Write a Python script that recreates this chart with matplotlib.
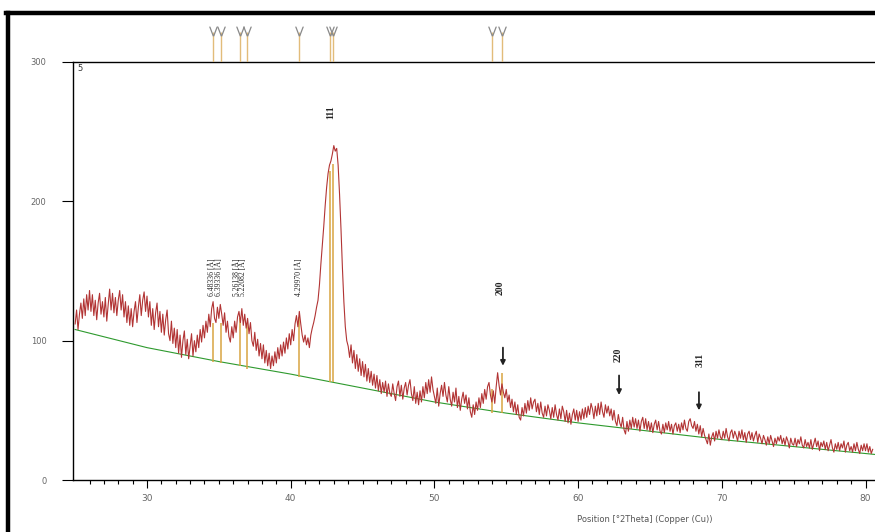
import matplotlib
matplotlib.use("Agg")
import matplotlib.pyplot as plt
import numpy as np
from matplotlib.lines import Line2D

# measured XRD pattern, 0.1 deg steps from 25.0 to 80.5
two_theta_start = 25.0
counts = [
    112, 122, 108, 119, 127, 116, 130, 118, 133, 122,
    136, 121, 133, 118, 129, 115, 127, 134, 119, 128,
    117, 131, 114, 126, 137, 122, 134, 120, 131, 118,
    129, 136, 122, 133, 117, 128, 113, 125, 111, 123,
    110, 121, 128, 113, 124, 133, 118, 129, 135, 121,
    132, 117, 128, 111, 123, 108, 120, 127, 110, 121,
    106, 119, 104, 115, 122, 105, 100, 114, 98, 109,
    95, 108, 91, 104, 88, 100, 107, 90, 101, 87,
    96, 105, 89, 100, 92, 104, 95, 108, 99, 111,
    102, 114, 106, 119, 110, 123, 128, 116, 113, 124,
    116, 126, 119, 111, 120, 106, 114, 103, 99, 110,
    102, 114, 106, 117, 121, 113, 123, 111, 119, 109,
    116, 105, 113, 100, 96, 106, 93, 101, 89, 98,
    87, 97, 84, 93, 82, 91, 80, 89, 82, 92,
    84, 95, 87, 97, 89, 99, 91, 102, 94, 105,
    97, 108, 100, 112, 118, 110, 121, 112, 104, 99,
    104, 97, 102, 95, 104, 109, 113, 118, 124, 129,
    140, 155, 168, 182, 197, 210, 220, 226, 229, 234,
    240, 236, 238, 226, 205, 180, 152, 128, 110, 100,
    96, 88, 97, 84, 93, 80, 90, 78, 87, 75,
    85, 74, 83, 71, 80, 70, 78, 68, 76, 66,
    75, 64, 72, 62, 70, 63, 71, 60, 69, 62,
    60, 69, 62, 57, 67, 71, 60, 68, 58, 66,
    70, 61, 68, 72, 62, 57, 67, 55, 63, 54,
    64, 56, 67, 59, 70, 62, 72, 63, 74, 65,
    60, 55, 66, 53, 62, 68, 60, 70, 61, 56,
    67, 58, 53, 63, 56, 66, 52, 60, 50, 58,
    63, 55, 61, 51, 59, 49, 45, 54, 47, 56,
    50, 59, 52, 62, 55, 65, 58, 67, 70, 61,
    56, 64, 55, 67, 77, 68, 61, 69, 63, 59,
    65, 56, 61, 52, 58, 49, 56, 47, 54, 45,
    43, 52, 46, 55, 48, 57, 50, 59, 51, 56,
    58, 49, 55, 47, 56, 48, 45, 53, 46, 54,
    50, 44, 52, 45, 54, 47, 43, 51, 44, 53,
    49, 42, 50, 41, 48, 40, 47, 51, 43, 50,
    42, 49, 43, 51, 44, 52, 45, 53, 47, 55,
    51, 44, 53, 46, 55, 47, 56, 49, 45, 54,
    48, 53, 46, 51, 43, 50, 42, 39, 47, 41,
    38, 45, 36, 33, 42, 35, 43, 37, 45, 38,
    44, 37, 43, 35, 42, 45, 37, 44, 36, 42,
    35, 41, 34, 40, 43, 36, 42, 35, 33, 40,
    34, 41, 36, 42, 35, 40, 33, 39, 41, 35,
    40, 34, 41, 36, 43, 37, 35, 42, 44, 39,
    37, 42, 35, 40, 33, 39, 31, 37, 32, 29,
    26, 33, 25, 31, 34, 28, 35, 30, 36, 31,
    29, 35, 30, 37, 31, 28, 34, 36, 30, 35,
    32, 28, 35, 30, 36, 29, 34, 27, 33, 35,
    29, 34, 28, 32, 35, 27, 33, 30, 26, 32,
    29, 25, 31, 26, 32, 28, 24, 30, 26, 31,
    28, 32, 26, 30, 25, 31, 28, 23, 30, 26,
    25, 30, 24, 29, 26, 31, 25, 23, 29, 24,
    27, 23, 29, 22, 26, 30, 24, 28, 21, 27,
    24, 28, 22, 27, 21, 25, 29, 23, 20, 26,
    22, 27, 21, 26, 23, 28, 20, 25, 27, 21,
    24, 20, 26, 21, 27, 22, 19, 25, 21, 26,
    21, 26, 20, 24, 19, 22,
]
two_theta = two_theta_start + 0.1 * np.arange(len(counts))

# fitted background
bg_pos = [25, 30, 35, 40, 45, 50, 55, 60, 65, 70, 75, 80, 81]
bg_val = [108, 95, 85, 76, 66, 56, 48, 41, 35, 29, 24, 19, 18]

# peak list sticks
stick_pos = [34.61, 35.13, 36.49, 36.94, 40.58, 42.74, 42.97, 53.99, 54.68]
stick_base = [85, 84, 82, 80, 74, 70, 70, 48, 48]
stick_top = [113, 113, 116, 113, 117, 222, 227, 65, 77]

# d-spacing labels
d_labels = ["6.48336 [Å]", "6.39336 [Å]", "5.26138 [Å]", "5.22082 [Å]", "4.29970 [Å]"]
d_label_pos = [34.55, 35.0, 36.25, 36.7, 40.6]

# hkl labels and arrows
hkl = ["111", "200", "220", "311"]
hkl_pos = [42.8, 54.57, 62.78, 68.48]
hkl_y = [264, 138, 90, 86]
arrow_x = [54.77, 62.85, 68.41]
arrow_from = [97, 77, 65]
arrow_to = [80, 59, 48]

W, H = 875, 532
fig = plt.figure(figsize=(W / 100, H / 100), dpi=100)
fig.patch.set_facecolor("white")

left, right = 73 / W, 1.0
bottom, top = (H - 480) / H, (H - 62) / H
ax = fig.add_axes([left, bottom, right - left, top - bottom])

x0 = 30 - (147 - 73) / 14.37
x1 = x0 + (W - 73) / 14.37
ax.set_xlim(x0, x1)
ax.set_ylim(0, 300)

ax.plot(bg_pos, bg_val, color="#2e9a2e", lw=0.8, zorder=2)
ax.vlines(stick_pos, stick_base, stick_top, color="#d9a441", lw=1.1, zorder=3)
ax.plot(two_theta, counts, color="#b23434", lw=0.8, zorder=4)

for lab, p in zip(d_labels, d_label_pos):
    ax.text(p, 132, lab, rotation=90, fontsize=5.5, family="Liberation Serif",
            color="#222222", ha="center", va="bottom")

for lab, p, yy in zip(hkl, hkl_pos, hkl_y):
    ax.text(p, yy, lab, rotation=90, fontsize=7, family="Liberation Serif",
            fontweight="bold", color="#222222", ha="center", va="center")

for xa, y_from, y_to in zip(arrow_x, arrow_from, arrow_to):
    ax.annotate("", xy=(xa, y_to), xytext=(xa, y_from),
                arrowprops=dict(arrowstyle="-|>", color="#222222", lw=1.3,
                                mutation_scale=7))

ax.text(0.006, 0.995, "5", transform=ax.transAxes, fontsize=6, color="#333333",
        ha="left", va="top")

# axes styling
ax.spines["right"].set_visible(False)
for s in ["left", "bottom", "top"]:
    ax.spines[s].set_linewidth(1.0)
ax.set_yticks([0, 100, 200, 300])
ax.set_xticks([30, 40, 50, 60, 70, 80])
ax.set_xticks(np.arange(26, 81, 1), minor=True)
ax.tick_params(axis="y", length=8, width=0.8, pad=11, labelsize=6, labelcolor="#666666")
ax.tick_params(axis="x", which="major", length=6, width=0.8, pad=4, labelsize=6.5,
               labelcolor="#666666")
ax.tick_params(axis="x", which="minor", length=3, width=0.8)

fig.text(645 / W, 1 - 520 / H, "Position [°2Theta] (Copper (Cu))", fontsize=6,
         color="#555555", ha="center", va="center")

# reference pattern strip above the plot
ax2 = fig.add_axes([left, (H - 62) / H, right - left, 36 / H])
ax2.set_xlim(x0, x1)
ax2.set_ylim(0, 1)
ax2.axis("off")
ax2.vlines(stick_pos, 0, 0.82, color="#e2bc7a", lw=1.0)
ax2.plot(stick_pos, [0.85] * len(stick_pos), ls="none", marker=r"$\mathsf{V}$",
         ms=7, color="#8a8a8a", mew=0)

# black frame
fig.add_artist(Line2D([7.5 / W, 7.5 / W], [0, 1 - 13 / H], color="black", lw=3.2))
fig.add_artist(Line2D([6 / W, 1], [1 - 13 / H, 1 - 13 / H], color="black", lw=3.2))

fig.savefig("out.png", dpi=100, facecolor="white")
